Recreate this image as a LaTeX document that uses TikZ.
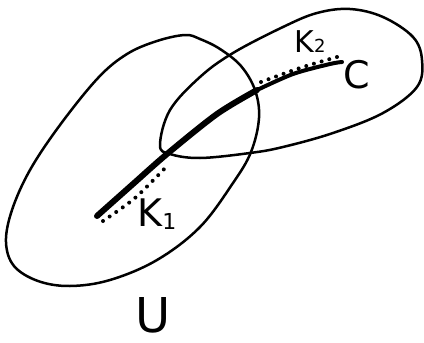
\documentclass[tikz,border=0pt]{standalone}
\usepackage{fontspec}
\setmainfont{DejaVu Sans}
\begin{document}
\begin{tikzpicture}[x=1pt,y=-1pt,
  outline/.style={line width=2.5pt, line join=round},
  curveC/.style={line width=6pt, line cap=round},
  dotline/.style={line width=4pt, dash pattern=on 0pt off 8pt, line cap=round},
  lab/.style={inner sep=0pt}]
\useasboundingbox (0,0) rectangle (424,343);
% Big set U
\draw[outline] plot[smooth cycle, tension=0.6] coordinates {
  (185,35) (157,41) (127,54) (98,78) (60,125) (30,170) (12,210) (6,242)
  (14,266) (38,281) (70,286) (110,280) (157,260) (200,227) (233,183)
  (251,152) (259,118) (255,90) (241,66) (220,49) (200,39)};
% Right set
\draw[outline] plot[smooth cycle, tension=0.6] coordinates {
  (160,145) (170,110) (200,77) (233,53) (283,27) (317,13) (350,9) (383,17)
  (413,37) (422,60) (417,87) (383,113) (333,133) (283,147) (250,153)
  (200,158) (170,154)};
% Curve C
\draw[curveC] plot[smooth, tension=0.5] coordinates {
  (97,216) (133,184) (167,154) (217,114) (257,90)};
\draw[line width=4pt, line cap=round] plot[smooth, tension=0.5] coordinates {
  (255,91) (293,74) (330,64) (342,62)};
% Dotted K1 and K2
\draw[dotline] plot[smooth] coordinates {(103,221) (135,198) (168,165)};
\draw[dotline] plot[smooth] coordinates {(261,82) (300,68) (337,57)};
% Labels
\node[lab] (k1) at (157,214) {\fontsize{38}{38}\selectfont K\raisebox{-0.15ex}{\fontsize{22}{22}\selectfont 1}};
\node[lab] (k2) at (310,42) {\fontsize{30}{30}\selectfont K\raisebox{0ex}{\fontsize{18}{18}\selectfont 2}};
\node[lab] (c) at (357,75) {\fontsize{38}{38}\selectfont C};
\node[lab] (u) at (153,315) {\fontsize{48}{48}\selectfont U};
\end{tikzpicture}
\end{document}
